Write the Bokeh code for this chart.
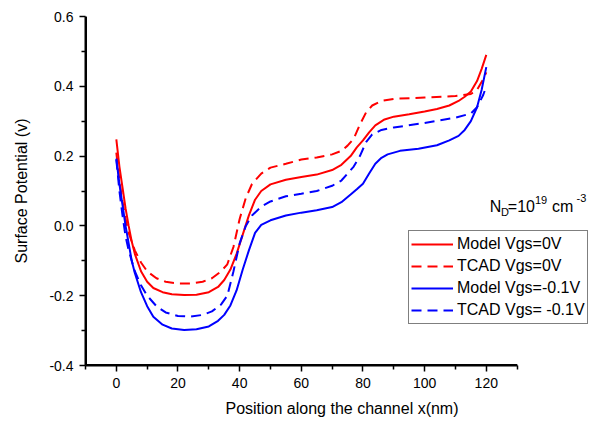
from bokeh.plotting import figure
from bokeh.models import (Range1d, FixedTicker, PrintfTickFormatter, Legend,
                          LegendItem, Label)
from bokeh.embed import file_html
from bokeh.resources import INLINE

# ---------------- data ----------------
model0_x = [0, 1, 2, 3, 4, 5, 6, 8, 10, 12, 15, 18, 22, 26, 30, 33, 35, 37, 39,
            41, 43, 45, 47, 50, 55, 60, 65, 70, 73, 76, 78, 80, 82, 84, 87, 90,
            95, 100, 104, 108, 111, 113, 115, 117, 118.5, 120]
model0_y = [0.248, 0.17, 0.11, 0.05, 0.0, -0.045, -0.08, -0.13, -0.16, -0.178,
            -0.19, -0.196, -0.198, -0.197, -0.19, -0.175, -0.155, -0.125, -0.08,
            -0.025, 0.03, 0.075, 0.1, 0.119, 0.132, 0.14, 0.147, 0.16, 0.175,
            0.2, 0.225, 0.245, 0.268, 0.288, 0.305, 0.313, 0.32, 0.328, 0.335,
            0.345, 0.358, 0.37, 0.385, 0.415, 0.45, 0.49]

tcad0_x = [0, 1, 2, 3, 4, 6, 8, 10, 13, 16, 20, 24, 28, 31, 34, 36, 38, 40, 42,
           44, 47, 50, 55, 60, 65, 70, 73, 75, 77, 79, 81, 83, 86, 90, 100, 110,
           115, 117, 119, 120]
tcad0_y = [0.21, 0.13, 0.07, 0.02, -0.02, -0.07, -0.105, -0.13, -0.15, -0.16,
           -0.165, -0.165, -0.16, -0.15, -0.13, -0.11, -0.06, 0.02, 0.08, 0.12,
           0.15, 0.167, 0.178, 0.19, 0.196, 0.205, 0.215, 0.23, 0.25, 0.29,
           0.325, 0.345, 0.358, 0.364, 0.368, 0.372, 0.378, 0.39, 0.42, 0.44]

model1_x = [0, 1, 2, 3, 4, 5, 6, 8, 10, 12, 15, 18, 22, 26, 30, 33, 35, 37, 39,
            41, 43, 45, 47, 50, 55, 60, 65, 70, 73, 76, 78, 80, 82, 84, 86, 88,
            92, 98, 104, 108, 111, 113, 115, 117, 118.5, 120]
model1_y = [0.193, 0.12, 0.06, 0.0, -0.05, -0.1, -0.135, -0.19, -0.23, -0.26,
            -0.283, -0.294, -0.298, -0.296, -0.288, -0.272, -0.255, -0.228,
            -0.185, -0.125, -0.07, -0.02, 0.003, 0.016, 0.03, 0.038, 0.045,
            0.054, 0.068, 0.09, 0.105, 0.121, 0.15, 0.178, 0.195, 0.205, 0.215,
            0.221, 0.231, 0.245, 0.258, 0.275, 0.3, 0.34, 0.39, 0.455]

tcad1_x = [0, 1, 2, 3, 4, 6, 8, 10, 13, 16, 20, 24, 28, 31, 34, 36, 38, 40, 42,
           44, 47, 50, 55, 60, 65, 70, 73, 75, 77, 79, 81, 83, 86, 90, 100, 110,
           115, 117, 119, 120]
tcad1_y = [0.19, 0.1, 0.03, -0.03, -0.07, -0.13, -0.17, -0.2, -0.23, -0.248,
           -0.258, -0.26, -0.255, -0.245, -0.225, -0.2, -0.13, -0.05, 0.0, 0.03,
           0.055, 0.07, 0.085, 0.092, 0.1, 0.115, 0.13, 0.15, 0.17, 0.2, 0.24,
           0.262, 0.275, 0.282, 0.295, 0.31, 0.322, 0.34, 0.375, 0.40]

x_major = [0, 20, 40, 60, 80, 100, 120]
x_minor = [-10, 10, 30, 50, 70, 90, 110, 130]
y_major = [-0.4, -0.2, 0.0, 0.2, 0.4, 0.6]
y_minor = [-0.3, -0.1, 0.1, 0.3, 0.5]

labels = ["Model Vgs=0V", "TCAD Vgs=0V", "Model Vgs=-0.1V", "TCAD Vgs= -0.1V"]

FONT = "Liberation Sans"
RED = "#ff0000"
BLUE = "#0000ff"

W, H = 600, 420
LEFT, RIGHT, TOP, BOTTOM = 85, 2, 16, 55
px_per_unit = 3.083
x_end = -10 + (W - LEFT - RIGHT) / px_per_unit
x_lo, x_hi = x_minor[0], x_minor[-1]
y_lo, y_hi = y_major[0], y_major[-1]

p = figure(width=W, height=H, output_backend="svg", toolbar_location=None,
           x_range=Range1d(x_lo, x_end), y_range=Range1d(y_lo, y_hi),
           min_border_left=LEFT, min_border_right=RIGHT, min_border_top=TOP,
           min_border_bottom=BOTTOM)
p.outline_line_color = None
p.xgrid.visible = False
p.ygrid.visible = False
p.background_fill_color = None
p.background_fill_alpha = 0
p.border_fill_color = "white"

r1 = p.line(model0_x, model0_y, line_color=RED, line_width=2)
r2 = p.line(tcad0_x, tcad0_y, line_color=RED, line_width=2, line_dash="10 6")
r3 = p.line(model1_x, model1_y, line_color=BLUE, line_width=2)
r4 = p.line(tcad1_x, tcad1_y, line_color=BLUE, line_width=2, line_dash="10 6")

# explicit axis rules (drawn at the frame edge, so made a bit wider)
p.segment(x0=[x_lo], y0=[y_lo], x1=[x_hi], y1=[y_lo],
          line_color="black", line_width=3)
p.segment(x0=[x_lo], y0=[y_lo], x1=[x_lo], y1=[y_hi],
          line_color="black", line_width=3)

for ax in (p.xaxis[0], p.yaxis[0]):
    ax.axis_line_color = "black"
    ax.axis_line_width = 2
    ax.major_tick_line_color = "black"
    ax.minor_tick_line_color = "black"
    ax.major_tick_line_width = 1.5
    ax.minor_tick_line_width = 1.5
    ax.major_tick_out = 6
    ax.major_tick_in = 0
    ax.minor_tick_out = 4
    ax.minor_tick_in = 0
    ax.major_label_text_font = FONT
    ax.major_label_text_font_size = "14px"
    ax.major_label_text_color = "black"
    ax.axis_label_text_font = FONT
    ax.axis_label_text_font_size = "16px"
    ax.axis_label_text_font_style = "normal"
    ax.axis_label_text_color = "black"
    ax.major_label_standoff = 6

p.xaxis.bounds = (x_lo, x_hi)
p.yaxis.bounds = (y_lo, y_hi)
p.xaxis.ticker = FixedTicker(ticks=x_major, minor_ticks=x_minor)
p.yaxis.ticker = FixedTicker(ticks=y_major, minor_ticks=y_minor)
p.yaxis.formatter = PrintfTickFormatter(format="%.1f")
p.xaxis.axis_label = "Position along the channel x(nm)"
p.yaxis.axis_label = "Surface Potential (v)"
p.xaxis.axis_label_standoff = 9
p.yaxis.axis_label_standoff = 16

legend = Legend(items=[LegendItem(label=labels[0], renderers=[r1]),
                       LegendItem(label=labels[1], renderers=[r2]),
                       LegendItem(label=labels[2], renderers=[r3]),
                       LegendItem(label=labels[3], renderers=[r4])],
                location=(323, 41))
legend.border_line_color = "black"
legend.border_line_width = 1
legend.background_fill_alpha = 1
legend.padding = 2
legend.spacing = 0
legend.margin = 0
legend.glyph_width = 42
legend.glyph_height = 22
legend.label_height = 22
legend.label_standoff = 4
legend.label_text_font = FONT
legend.label_text_font_size = "16px"
legend.label_text_color = "black"
p.add_layout(legend, "center")

# N_D = 10^19 cm^-3 annotation, composed from pieces
parts = [("N", 121.1, 0.056, "16px"),
         ("D", 124.8, 0.039, "11px"),
         ("=10", 127.0, 0.056, "16px"),
         ("19", 135.8, 0.074, "11px"),
         ("cm", 141.3, 0.056, "16px"),
         ("-3", 149.3, 0.080, "11px")]
for txt, xx, yy, fs in parts:
    p.add_layout(Label(x=xx, y=yy, text=txt, text_font=FONT,
                       text_font_size=fs, text_color="black",
                       text_baseline="alphabetic", text_align="left"))

open("out.html", "w").write(file_html(p, INLINE))
